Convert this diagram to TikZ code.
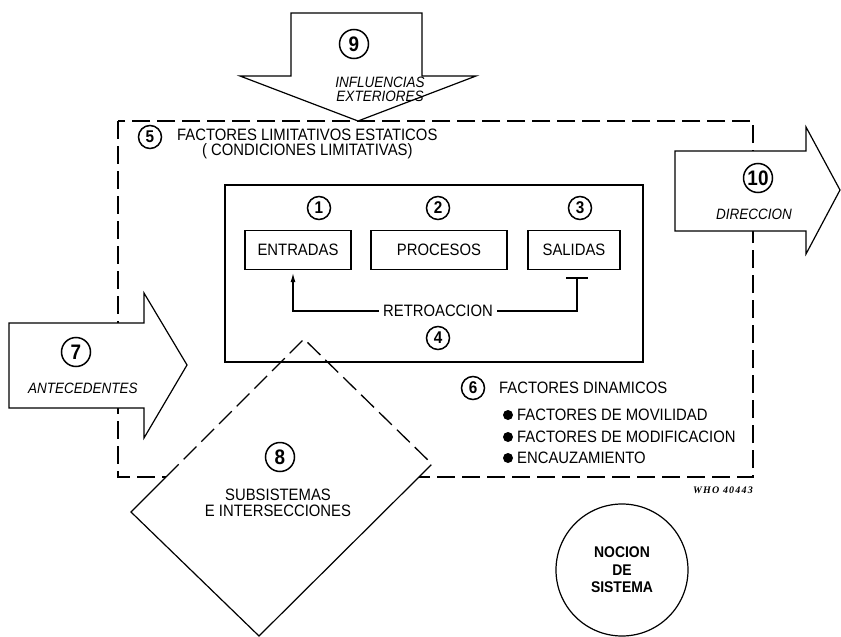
\documentclass[tikz,border=0pt]{standalone}
\usepackage{fontspec}
\usetikzlibrary{arrows.meta}
\setmainfont{Liberation Sans}[FakeStretch=0.9]
\newfontfamily\whofont{Liberation Serif}[LetterSpace=12]
\begin{document}
\begin{tikzpicture}[x=1pt,y=-1pt,line join=miter,
  lbl/.style={font=\fontsize{16.5}{18}\selectfont, inner sep=1pt},
  itlbl/.style={font=\fontsize{15}{16}\selectfont\itshape, inner sep=1pt},
  num/.style={circle, draw, line width=1.5pt, inner sep=0pt, minimum size=23pt,
              font=\fontsize{17}{17}\selectfont\bfseries},
  bignum/.style={num, minimum size=29pt, font=\fontsize{21}{21}\selectfont\bfseries},
  stagebox/.style={draw, line width=1.1pt, minimum height=39pt, lbl},
  bigarrow/.style={draw, fill=white, line width=1.2pt},
  dashline/.style={line width=1.3pt, dash pattern=on 18pt off 7pt},
  dot/.style={circle, fill, inner sep=0pt, minimum size=10pt}]

\useasboundingbox (0,0) rectangle (841,637);

% system boundary: static limiting factors
\draw[dashline] (118,121) rectangle (753,477);

% subsystems and intersections
\coordinate (dT) at (304,339);
\coordinate (dR) at (432,464);
\coordinate (dB) at (259,636);
\coordinate (dL) at (131,512);
\coordinate (dX1) at (166,477);
\coordinate (dX2) at (419,477);
\fill[white] (dT) -- (dR) -- (dB) -- (dL) -- cycle;
\draw[dashline] (dX1) -- (dT) -- (dR) -- (dX2);
\draw[line width=1.2pt] (dX2) -- (dB) -- (dL) -- (dX1);
\node[bignum] (n8) at (280,457) {8};
\node[lbl, align=center] (sub) at (278,503) {SUBSISTEMAS\\[-2pt]E INTERSECCIONES};

% the system core
\draw[line width=1.3pt] (225,185) rectangle (643,362);
\node[num] (n1) at (319,208) {1};
\node[num] (n2) at (438,208) {2};
\node[num] (n3) at (580,208) {3};
\node[stagebox, minimum width=106pt] (ent) at (298,250) {ENTRADAS};
\node[stagebox, minimum width=136pt] (pro) at (439,250) {PROCESOS};
\node[stagebox, minimum width=92pt] (sal) at (574,250) {SALIDAS};
\node[lbl] (ret) at (438,311) {RETROACCION};
\node[num] (n4) at (438,338) {4};
\coordinate (tcap) at (577,278);
\draw[line width=1.2pt] ([xshift=-11pt]tcap) -- ([xshift=11pt]tcap);
\draw[line width=1.2pt] (tcap) |- ([xshift=3pt]ret.east);
\draw[line width=1.2pt, -{Latex[length=9pt,width=5pt]}]
  ([xshift=-3pt]ret.west) -| ([xshift=-5pt,yshift=-3pt]ent.south);

% static limiting factors label
\node[num] (n5) at (150,137) {5};
\node[lbl, align=center, anchor=north west] (lim) at (176,128)
  {FACTORES LIMITATIVOS ESTATICOS\\[-3pt]( CONDICIONES LIMITATIVAS)};

% dynamic factors
\node[num] (n6) at (473,388) {6};
\node[lbl, anchor=west] (din) at (498,388) {FACTORES DINAMICOS};
\node[dot] (b1) at (508,415) {};
\node[lbl, anchor=west] (mov) at (516,415) {FACTORES DE MOVILIDAD};
\node[dot] (b2) at (508,437) {};
\node[lbl, anchor=west] (mod) at (516,437) {FACTORES DE MODIFICACION};
\node[dot] (b3) at (508,458) {};
\node[lbl, anchor=west] (enc) at (516,458) {ENCAUZAMIENTO};

% external influences
\draw[bigarrow] (291,13) -- (422,13) -- (422,76) -- (476,76) -- (358,121)
  -- (240,76) -- (291,76) -- cycle;
\node[bignum] (n9) at (354,44) {9};
\node[itlbl, align=center] (inf) at (380,89) {INFLUENCIAS\\[-2pt]EXTERIORES};

% background
\draw[bigarrow] (9,323) -- (144,323) -- (144,293) -- (187,365) -- (144,438)
  -- (144,408) -- (9,408) -- cycle;
\node[bignum] (n7) at (76,352) {7};
\node[itlbl] (ant) at (83,388) {ANTECEDENTES};

% direction
\draw[bigarrow] (675,151) -- (806,151) -- (806,127) -- (840,190) -- (806,254)
  -- (806,231) -- (675,231) -- cycle;
\node[bignum] (n10) at (758,178) {10};
\node[itlbl] (dir) at (754,214) {DIRECCION};

% reference number
\node[font=\whofont\fontsize{10}{10}\selectfont\bfseries\itshape, anchor=east,
      inner sep=0pt] (who) at (753,490) {WHO 40443};

% notion of system
\node[circle, draw, line width=1.2pt, minimum size=132pt, align=center,
      font=\fontsize{15.5}{17.5}\selectfont\bfseries] (noc) at (622,570) {NOCION\\DE\\SISTEMA};
\end{tikzpicture}
\end{document}
